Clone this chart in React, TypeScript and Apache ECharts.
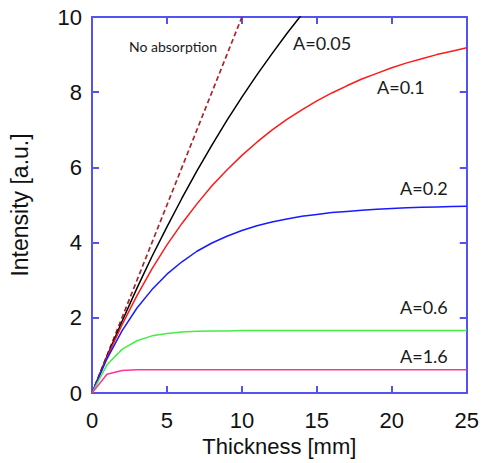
import React, { useEffect, useRef } from "react";
import * as echarts from "echarts";

const thicknessFull = [0, 1, 2, 3, 4, 5, 6, 7, 8, 9, 10, 11, 12, 13, 14, 15, 16, 17, 18, 19, 20, 21, 22, 23, 24, 25];
const noAbsorption = [0, 1, 2, 3, 4, 5, 6, 7, 8, 9, 10, 11];
const a005 = [0, 0.975, 1.9, 2.79, 3.63, 4.42, 5.18, 5.91, 6.59, 7.25, 7.87, 8.46, 9.02, 9.56, 10.07, 10.55];
const a01 = [0, 0.95, 1.81, 2.59, 3.3, 3.94, 4.51, 5.03, 5.51, 5.93, 6.32, 6.67, 6.99, 7.28, 7.53, 7.77, 7.98, 8.17, 8.35, 8.5, 8.65, 8.78, 8.89, 9.0, 9.09, 9.18];
const a02 = [0, 0.91, 1.65, 2.26, 2.75, 3.16, 3.49, 3.77, 3.99, 4.17, 4.32, 4.45, 4.55, 4.63, 4.7, 4.75, 4.8, 4.83, 4.86, 4.89, 4.91, 4.93, 4.94, 4.95, 4.96, 4.97];
const a06 = [0, 0.75, 1.16, 1.39, 1.52, 1.58, 1.62, 1.64, 1.65, 1.65, 1.66, 1.66, 1.66, 1.66, 1.66, 1.66, 1.66, 1.66, 1.66, 1.66, 1.66, 1.66, 1.66, 1.66, 1.66, 1.66];
const a16 = [0, 0.5, 0.6, 0.62, 0.62, 0.62, 0.62, 0.62, 0.62, 0.62, 0.62, 0.62, 0.62, 0.62, 0.62, 0.62, 0.62, 0.62, 0.62, 0.62, 0.62, 0.62, 0.62, 0.62, 0.62, 0.62];

const xTicks = [0, 5, 10, 15, 20, 25];
const yTicks = [0, 2, 4, 6, 8, 10];

const pairs = (ys: number[]) => ys.map((y, i) => [thicknessFull[i], y]);

const AXIS = "#5252f5";

export default function App() {
  const ref = useRef<HTMLDivElement>(null);
  useEffect(() => {
    const chart = echarts.init(ref.current!, undefined, { renderer: "svg" });
    const line = (name: string, ys: number[], color: string, dashed = false) => ({
      name,
      type: "line",
      data: dashed ? noAbsorption.map((v) => [v, v]) : pairs(ys),
      showSymbol: false,
      symbol: "none",
      clip: true,
      lineStyle: { color, width: dashed ? 1.7 : 1.5, type: dashed ? [5, 3] : "solid" },
    });
    const axisCommon = {
      type: "value",
      axisLine: { show: true, onZero: false, lineStyle: { color: AXIS, width: 2 } },
      axisTick: { show: true, inside: true, length: 7, lineStyle: { color: AXIS, width: 2 } },
      splitLine: { show: false },
    };
    const txt = (text: string, x: number, y: number, size: number) => ({
      type: "text",
      x,
      y,
      style: { text, fontSize: size, fontFamily: "Lato", fill: "#1a1a1a", textVerticalAlign: "middle" },
    });
    chart.setOption({
      animation: false,
      grid: { left: 90, top: 17, right: 15, bottom: 70 },
      xAxis: [
        {
          ...axisCommon,
          min: 0,
          max: 25,
          interval: 5,
          name: "Thickness [mm]",
          nameLocation: "middle",
          nameGap: 42,
          nameTextStyle: { fontSize: 22, fontFamily: "Liberation Sans", color: "#111" },
          axisLabel: { margin: 16, fontSize: 22, fontFamily: "Liberation Sans", color: "#111", formatter: (v: number) => (xTicks.includes(v) ? String(v) : "") },
        },
        { ...axisCommon, position: "top", min: 0, max: 25, interval: 5, axisLabel: { show: false } },
      ],
      yAxis: [
        {
          ...axisCommon,
          min: 0,
          max: 10,
          interval: 2,
          name: "Intensity [a.u.]",
          nameLocation: "middle",
          nameGap: 61,
          nameTextStyle: { fontSize: 23, fontFamily: "Liberation Sans", color: "#111" },
          axisLabel: { margin: 10, fontSize: 22, fontFamily: "Liberation Sans", color: "#111", formatter: (v: number) => (yTicks.includes(v) ? String(v) : "") },
        },
        { ...axisCommon, position: "right", min: 0, max: 10, interval: 2, axisLabel: { show: false } },
      ],
      series: [
        line("No absorption", [], "#a8262c", true),
        line("A=0.05", a005, "#000000"),
        line("A=0.1", a01, "#ff1a1a"),
        line("A=0.2", a02, "#1a1aff"),
        line("A=0.6", a06, "#44ee44"),
        line("A=1.6", a16, "#ff3399"),
      ],
      graphic: [
        txt("No absorption", 129, 46, 14),
        txt("A=0.05", 293, 43, 18),
        txt("A=0.1", 377, 87, 18),
        txt("A=0.2", 400, 188, 18),
        txt("A=0.6", 400, 307, 18),
        txt("A=1.6", 400, 356, 18),
      ],
    });
    return () => chart.dispose();
  }, []);
  return <div ref={ref} style={{ width: 482, height: 463, position: "absolute", left: 0, top: 0 }} />;
}
